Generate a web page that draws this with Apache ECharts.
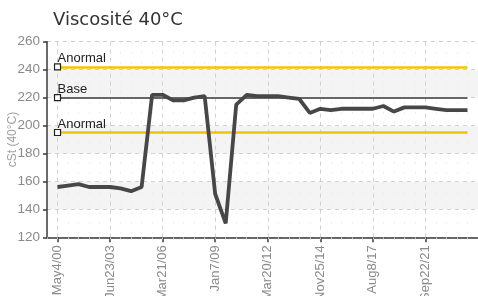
<!DOCTYPE html>
<html>
<head>
<meta charset="utf-8">
<script src="https://cdn.jsdelivr.net/npm/echarts@6/dist/echarts.min.js"></script>
<style>html,body{margin:0;padding:0;background:#fff}#c{width:478px;height:296px}</style>
</head>
<body>
<div id="c"></div>
<script>
const titleText = 'Viscosité 40°C';
const yAxisName = 'cSt (40°C)';
const tickLabels = ['May4/00','Jun23/03','Mar21/06','Jan7/09','Mar20/12','Nov25/14','Aug8/17','Sep22/21'];
const labelEvery = 5;
const viscosity = [156,157,158,156,156,156,155,153,156,222,222,218,218,220,221,151,130,215,222,221,221,221,220,219,209,212,211,212,212,212,212,214,210,213,213,213,212,211,211,211];
const limitNames = ['Anormal','Base','Anormal'];
const limitValues = [242,220,195];
const limitColors = ['#f5c400','#666666','#f5c400'];
const yMin = 120, yMax = 260, yStep = 20;

const narrow = "'Liberation Sans',Arial,sans-serif";
// categories: one blank pad on each side, sample labels every 5th point
const categories = [''];
viscosity.forEach((v,i)=>categories.push(i % labelEvery === 0 ? tickLabels[i/labelEvery] : ''));
categories.push('');
const isMajor = (idx)=> idx>=1 && idx<=viscosity.length && (idx-1)%labelEvery===0;
const firstIdx = 1, lastIdx = viscosity.length;

const chart = echarts.init(document.getElementById('c'), null, {renderer:'canvas'});
chart.setOption({
  animation:false,
  title:{text:titleText,left:48,top:6,textStyle:{fontFamily:'DejaVu Sans',fontSize:18,fontWeight:'normal',color:'#333'}},
  grid:{left:47,right:0,top:41.7,bottom:58.7,containLabel:false,outerBoundsMode:'none'},
  xAxis:[{
    type:'category',data:categories,boundaryGap:false,position:'bottom',
    axisLine:{show:true,lineStyle:{color:'#3a3a3a',width:1.5}},
    axisTick:{show:true,interval:(i)=>isMajor(i),length:5,lineStyle:{color:'#3a3a3a',width:1.5}},
    axisLabel:{show:true,interval:(i)=>isMajor(i),rotate:90,margin:8,fontFamily:narrow,fontSize:13,color:'#8a8a8a'},
    splitLine:{show:true,interval:(i)=>isMajor(i),lineStyle:{color:'#d0d0d0',type:[4,4],width:1}}
  },{
    type:'category',data:categories,boundaryGap:false,position:'bottom',
    axisLine:{show:false},
    axisTick:{show:true,interval:0,length:2,lineStyle:{color:'#c4c4c4'}},
    axisLabel:{show:false},
    splitLine:{show:true,interval:(i)=>!isMajor(i),lineStyle:{color:'#ededed',type:[2,8],width:1}}
  }],
  yAxis:{
    type:'value',min:yMin,max:yMax,interval:yStep,
    name:yAxisName,nameLocation:'middle',nameGap:28,nameMoveOverlap:false,
    nameTextStyle:{fontFamily:narrow,fontSize:12,color:'#a0a0a0'},
    axisLine:{show:true,lineStyle:{color:'#3a3a3a',width:1.5}},
    axisTick:{show:true,length:4,lineStyle:{color:'#3a3a3a',width:1.5}},
    axisLabel:{margin:7,fontFamily:narrow,fontSize:13.5,color:'#8a8a8a'},
    splitLine:{show:true,lineStyle:{color:'#d0d0d0',type:[4,4]}},
    splitArea:{show:true,areaStyle:{color:['#ffffff','#f4f4f4']}}
  },
  series:[{
    type:'line',xAxisIndex:0,
    data:viscosity.map((v,i)=>[i+1,v]),
    showSymbol:false,symbol:'none',
    lineStyle:{color:'#474747',width:3.8},
    z:5,
    markLine:{
      silent:true,symbol:['none','none'],z:3,
      data:limitValues.map((v,k)=>[
        {coord:[firstIdx,v],lineStyle:{color:limitColors[k],width:limitColors[k]==='#666666'?2:2.5,type:'solid'},
         label:{show:true,formatter:limitNames[k],position:'insideStartTop',distance:[0,2],fontFamily:narrow,fontSize:13,color:'#222'}},
        {coord:[lastIdx,v]}
      ])
    },
    markPoint:{
      silent:true,symbol:'rect',symbolSize:6,z:6,
      itemStyle:{color:'#ffffff',borderColor:'#222',borderWidth:1.2},
      label:{show:false},
      data:limitValues.map(v=>({coord:[firstIdx,v]}))
    }
  }]
});
</script>
</body>
</html>
